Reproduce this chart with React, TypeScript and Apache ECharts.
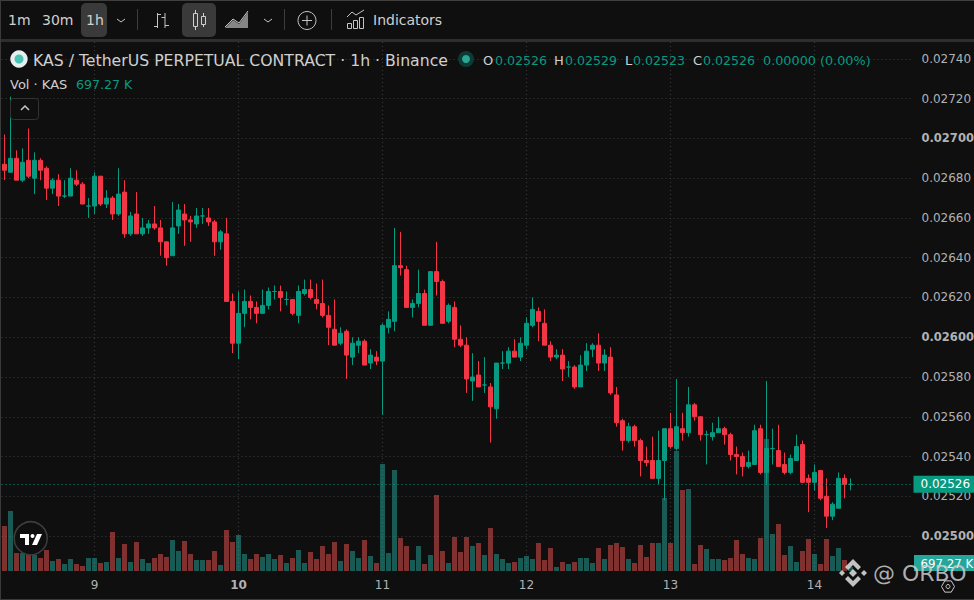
import React, { useEffect, useRef } from "react";
import * as echarts from "echarts";

const FONT = "DejaVu Sans";
const BG = "#0f0f0f";
const UP = "#089981";
const DOWN = "#f23645";
const TEXT = "#cfcfcf";
const AXIS_TEXT = "#b2b2b2";
const GRID = "#3d3d3d";

// Prices are stored in units of 0.00001
const PRICE_UNIT = 0.00001;
const opens = [2687,2683,2690,2679,2689,2680,2689,2685,2675,2679,2671,2671,2679,2677,2666,2666,2681,2667,2670,2662,2673,2652,2662,2652,2655,2657,2655,2648,2641,2656,2662,2659,2657,2661,2660,2658,2648,2652,2618,2597,2612,2618,2615,2612,2616,2623,2623,2619,2619,2611,2622,2624,2619,2617,2611,2604,2597,2603,2590,2596,2598,2587,2590,2588,2605,2608,2636,2634,2615,2617,2622,2606,2633,2628,2608,2615,2599,2596,2578,2581,2576,2575,2564,2587,2587,2593,2590,2596,2606,2613,2607,2596,2590,2591,2585,2585,2575,2586,2594,2596,2587,2590,2571,2558,2548,2555,2548,2538,2538,2529,2538,2554,2544,2554,2552,2566,2560,2551,2550,2552,2554,2551,2541,2540,2535,2536,2554,2532,2544,2543,2536,2532,2538,2546,2529,2527,2533,2520,2510,2514,2529,2526];
const closes = [2684,2690,2679,2688,2681,2689,2684,2675,2679,2671,2671,2680,2677,2667,2666,2681,2667,2670,2662,2672,2652,2661,2652,2655,2657,2655,2648,2640,2655,2664,2659,2658,2661,2661,2658,2648,2653,2618,2597,2612,2618,2615,2612,2616,2623,2623,2620,2619,2612,2623,2624,2620,2617,2611,2605,2596,2602,2591,2597,2598,2586,2591,2588,2606,2609,2636,2635,2615,2617,2622,2606,2633,2628,2607,2616,2599,2596,2579,2580,2575,2576,2565,2587,2587,2593,2590,2597,2607,2614,2608,2596,2590,2591,2584,2585,2575,2586,2593,2596,2587,2591,2572,2557,2548,2555,2548,2538,2537,2529,2538,2554,2545,2555,2552,2566,2560,2551,2551,2552,2554,2551,2541,2540,2535,2537,2553,2532,2544,2544,2535,2532,2539,2545,2527,2527,2532,2519,2510,2516,2529,2526,2526];
const lows = [2679,2683,2679,2678,2680,2672,2679,2669,2672,2666,2670,2671,2676,2667,2660,2662,2666,2665,2659,2661,2650,2651,2652,2651,2652,2654,2641,2636,2641,2652,2646,2648,2655,2657,2656,2641,2644,2618,2592,2589,2605,2609,2607,2612,2614,2619,2613,2616,2611,2607,2621,2619,2614,2610,2596,2596,2596,2579,2586,2592,2586,2584,2586,2561,2602,2603,2631,2615,2610,2615,2606,2606,2621,2607,2607,2595,2595,2572,2568,2575,2572,2547,2559,2584,2584,2590,2588,2594,2605,2598,2596,2588,2589,2578,2580,2574,2575,2583,2590,2583,2583,2571,2555,2543,2547,2545,2530,2535,2529,2526,2518,2544,2543,2548,2550,2558,2548,2536,2548,2552,2546,2538,2531,2530,2534,2536,2531,2526,2536,2535,2531,2531,2538,2527,2512,2523,2518,2504,2508,2514,2519,2523];
const highs = [2702,2721,2694,2695,2705,2693,2690,2686,2680,2682,2679,2685,2684,2678,2670,2683,2681,2674,2671,2685,2679,2663,2673,2660,2659,2666,2659,2648,2668,2667,2667,2661,2665,2665,2665,2659,2654,2660,2622,2623,2624,2621,2618,2624,2625,2626,2626,2623,2619,2626,2629,2629,2627,2629,2616,2619,2605,2604,2600,2600,2599,2594,2593,2607,2613,2655,2653,2636,2619,2634,2624,2633,2648,2629,2617,2618,2606,2600,2592,2588,2590,2577,2587,2593,2595,2599,2600,2610,2620,2615,2614,2598,2594,2594,2588,2586,2591,2597,2597,2602,2594,2595,2575,2559,2557,2556,2549,2545,2550,2553,2554,2562,2579,2562,2575,2567,2560,2553,2557,2560,2555,2552,2545,2542,2543,2556,2556,2578,2554,2556,2542,2541,2551,2548,2531,2536,2533,2529,2517,2532,2531,2529];
// Volumes in thousands of KAS
const volumes = [7830,10440,3132,3132,2784,2784,2262,3654,1740,2088,1218,2088,1218,870,2262,2262,1392,1566,6786,2262,4698,1566,5046,2088,1392,2262,2958,2436,5394,3480,5220,2958,1914,1914,1914,3480,1044,7134,5046,6264,2958,2088,2958,2436,2958,2088,2784,1392,2262,3654,1392,3306,2088,4350,2958,5046,1740,4698,3480,2262,5394,2610,1392,18618,3132,17574,5742,4350,1914,4350,1218,2784,13224,3480,1392,5916,3306,5916,4350,4872,2784,7482,2958,2088,1392,1566,2262,2610,2088,4872,1914,4002,696,1566,1218,1566,2262,2262,1392,4002,2088,4524,4872,4176,2088,1392,4524,2436,4872,4872,12702,4872,20880,14094,14268,1218,4524,3828,2088,2088,1914,2262,5394,2958,2262,2088,5742,22968,6438,8178,2784,4350,1566,3480,5568,2958,1218,5568,2610,4002,1914,697];

const dayTicks: Record<number, string> = { 15: "9", 39: "10", 63: "11", 87: "12", 111: "13", 135: "14" };
const boldDays = ["10"];
const boldPrices = ["0.02700", "0.02600", "0.02500"];
const CATEGORY_COUNT = 152;
const categories = Array.from({ length: CATEGORY_COUNT }, (_, i) => dayTicks[i] ?? `h${i}`);
const isDayTick = (i: number) => dayTicks[i] !== undefined;

const lastPriceLabel = "0.02526";
const lastVolumeLabel = "697.27 K";
const titleText = "KAS / TetherUS PERPETUAL CONTRACT · 1h · Binance";
const ohlc = [
  { k: "O", lx: 483, v: "0.02526", vx: 495 },
  { k: "H", lx: 554, v: "0.02529", vx: 565 },
  { k: "L", lx: 625, v: "0.02523", vx: 633 },
  { k: "C", lx: 693, v: "0.02526", vx: 703 },
];
const changeText = "0.00000 (0.00%)";

const txt = (text: string, x: number, y: number, fill: string, fontSize = 14, extra: any = {}) => ({
  type: "text", x, y, silent: true, z: 50,
  style: { text, fill, fontSize, fontFamily: FONT, verticalAlign: "middle", ...extra },
});
const ln = (x1: number, y1: number, x2: number, y2: number, stroke = "#c4c4c4", lineWidth = 1) => ({
  type: "line", silent: true, z: 50, shape: { x1, y1, x2, y2 }, style: { stroke, lineWidth },
});
const rc = (x: number, y: number, width: number, height: number, style: any, r = 0, z = 40) => ({
  type: "rect", silent: true, z, shape: { x, y, width, height, r }, style,
});
const poly = (points: number[][], fill: string, z = 60) => ({
  type: "polygon", silent: true, z, shape: { points }, style: { fill },
});
const pl = (points: number[][], stroke = "#c4c4c4", lineWidth = 1, z = 50) => ({
  type: "polyline", silent: true, z, shape: { points }, style: { stroke, lineWidth, fill: "none" },
});

function chrome(): any[] {
  const wm = "rgba(226,226,226,0.85)";
  const cx = 853, cy = 573;
  const d = (dx: number, h: number) => [[cx + dx, cy - h], [cx + dx + h, cy], [cx + dx, cy + h], [cx + dx - h, cy]];
  const chev = (s: number) => [[cx, cy + s * 14], [cx + 8, cy + s * 6], [cx + 5, cy + s * 3], [cx, cy + s * 8], [cx - 5, cy + s * 3], [cx - 8, cy + s * 6]];
  const hex = (x: number, y: number, r: number) => [0, 1, 2, 3, 4, 5, 0].map((k) => [x + r * Math.cos((k * Math.PI) / 3), y + r * Math.sin((k * Math.PI) / 3)]);
  return [
    // toolbar
    rc(0, 0, 974, 39, { fill: BG }),
    rc(0, 39, 974, 3, { fill: "#2e2e2e" }),
    rc(0, 0, 974, 1, { fill: "#3f3f3f" }, 0, 70),
    rc(0, 0, 1, 600, { fill: "#3a3a3a" }, 0, 70),
    rc(0, 599, 974, 1, { fill: "#3a3a3a" }, 0, 70),
    rc(81, 3, 26, 34, { fill: "#3a3a3a" }, 5, 41),
    rc(182, 3, 34, 34, { fill: "#3a3a3a" }, 5, 41),
    txt("1m", 8, 20, TEXT),
    txt("30m", 42, 20, TEXT),
    txt("1h", 86, 20, TEXT),
    pl([[117, 19], [121, 22], [125, 19]]),
    ln(137.5, 9, 137.5, 30, "#3d3d3d"),
    ln(157.5, 13, 157.5, 28), ln(154, 26.5, 157.5, 26.5), ln(157.5, 14.5, 161, 14.5),
    ln(165, 13, 165, 28), ln(161.5, 17.5, 165, 17.5), ln(165, 25.5, 169, 25.5),
    rc(193.5, 13.5, 4, 13, { fill: "none", stroke: "#d0d0d0", lineWidth: 1 }, 0, 50),
    ln(195.5, 10, 195.5, 13.5, "#d0d0d0"), ln(195.5, 26.5, 195.5, 30, "#d0d0d0"),
    rc(201.5, 16.5, 4, 8, { fill: "none", stroke: "#d0d0d0", lineWidth: 1 }, 0, 50),
    ln(203.5, 13, 203.5, 16.5, "#d0d0d0"), ln(203.5, 24.5, 203.5, 27, "#d0d0d0"),
    poly([[225, 28], [233, 20], [239, 24], [248, 12], [248, 28]], "#858585", 50),
    pl([[225, 27], [233, 19], [239, 23], [248, 11]]),
    pl([[264, 19], [268, 22], [272, 19]]),
    ln(284.5, 9, 284.5, 30, "#3d3d3d"),
    { type: "circle", silent: true, z: 50, shape: { cx: 307, cy: 20.5, r: 9 }, style: { fill: "none", stroke: "#c4c4c4", lineWidth: 1 } },
    ln(302, 20.5, 312, 20.5), ln(307, 15.5, 307, 25.5),
    ln(331.5, 9, 331.5, 30, "#3d3d3d"),
    pl([[347, 17], [352, 12], [356, 15], [364, 10]]),
    rc(347.5, 23.5, 4, 5, { fill: "none", stroke: "#c4c4c4", lineWidth: 1 }, 0, 50),
    rc(353.5, 20.5, 4, 8, { fill: "none", stroke: "#c4c4c4", lineWidth: 1 }, 0, 50),
    rc(359.5, 17.5, 4, 11, { fill: "none", stroke: "#c4c4c4", lineWidth: 1 }, 0, 50),
    txt("Indicators", 373, 20, TEXT),
    // legend
    { type: "circle", silent: true, z: 50, shape: { cx: 19, cy: 59, r: 8.7 }, style: { fill: "#e6efee" } },
    { type: "circle", silent: true, z: 51, shape: { cx: 19, cy: 59, r: 4.5 }, style: { fill: "#49c4b4" } },
    txt(titleText, 33, 60, TEXT, 15.7),
    { type: "circle", silent: true, z: 50, shape: { cx: 466, cy: 59, r: 8 }, style: { fill: "#0d3a33" } },
    { type: "circle", silent: true, z: 51, shape: { cx: 466, cy: 59, r: 4 }, style: { fill: "#2ba595" } },
    ...ohlc.flatMap((o) => [txt(o.k, o.lx, 60, TEXT, 13), txt(o.v, o.vx, 60, UP, 12.6)]),
    txt(changeText, 763, 60, UP, 12.8),
    txt("Vol · KAS", 10, 84, TEXT, 13),
    txt(lastVolumeLabel, 76, 84, UP, 12.6),
    rc(10.5, 98.5, 28, 21, { fill: BG, stroke: "#333333", lineWidth: 1 }, 3, 45),
    pl([[21, 110], [25, 106], [29, 110]], "#c8c8c8", 1.5),
    // volume price tag
    rc(914, 555, 60, 16, { fill: "#26a69a" }, 0, 45),
    txt(lastVolumeLabel, 920.5, 563.5, "#ffffff", 11.8),
    // TradingView badge
    { type: "circle", silent: true, z: 55, shape: { cx: 30.7, cy: 538.3, r: 16.5 }, style: { fill: "#0f0f0f", stroke: "#3d3d3d", lineWidth: 1.5 } },
    poly([[20, 534], [29, 534], [29, 545], [25, 545], [25, 538], [20, 538]], "#ffffff"),
    { type: "circle", silent: true, z: 60, shape: { cx: 32.5, cy: 536, r: 2 }, style: { fill: "#ffffff" } },
    poly([[37, 534], [42, 534], [37, 545], [32, 545]], "#ffffff"),
    // watermark
    poly(chev(-1), wm), poly(chev(1), wm), poly(d(0, 4), wm), poly(d(-11, 3), wm), poly(d(11, 3), wm),
    txt("@ ORBO", 873, 573, "rgba(205,205,205,0.85)", 22, {}),
    pl(hex(948, 586.5, 6.5), "#c8c8c8", 1, 60),
    { type: "circle", silent: true, z: 60, shape: { cx: 948, cy: 586.5, r: 2 }, style: { fill: "none", stroke: "#c8c8c8", lineWidth: 1 } },
  ];
}

export default function App() {
  const ref = useRef<HTMLDivElement>(null);
  useEffect(() => {
    document.body.style.margin = "0";
    document.body.style.background = BG;
    const chart = echarts.init(ref.current!, undefined, { renderer: "svg" });
    const p = (v: number) => v * PRICE_UNIT;
    const candleData = opens.map((o, i) => [p(o), p(closes[i]), p(lows[i]), p(highs[i])]);
    const volumeData = volumes.map((v, i) => {
      const up = closes[i] >= opens[i];
      return { value: v, itemStyle: { color: up ? "rgba(38,166,154,0.5)" : "rgba(239,83,80,0.5)" } };
    });
    const lastPrice = p(closes[closes.length - 1]);
    const gridRight = 974 - 913.5;
    chart.setOption({
      animation: false,
      backgroundColor: BG,
      textStyle: { fontFamily: FONT },
      grid: [
        // price pane: one tick step is 39.76 px, 0.02740 sits at y = 58.9
        { left: 1.5, right: gridRight, top: 58.9, height: 516.9, containLabel: false, outerBoundsMode: "none" },
        // volume pane: y = 42 to y = 571
        { left: 1.5, right: gridRight, top: 42, height: 529, containLabel: false, outerBoundsMode: "none" },
      ],
      xAxis: [
        {
          type: "category", gridIndex: 0, data: categories, boundaryGap: true,
          axisLine: { show: false }, axisTick: { show: false }, axisLabel: { show: false }, splitLine: { show: false },
        },
        {
          type: "category", gridIndex: 1, data: categories, boundaryGap: true,
          axisLine: { show: false }, axisTick: { show: false },
          axisLabel: {
            interval: (i: number) => isDayTick(i),
            margin: 8, color: AXIS_TEXT, fontSize: 12, fontFamily: FONT,
            formatter: (v: string) => (boldDays.includes(v) ? `{b|${v}}` : v),
            rich: { b: { fontWeight: "bold", fontSize: 12, color: AXIS_TEXT, fontFamily: FONT } },
          },
          splitLine: {
            show: true, alignWithLabel: true, interval: (i: number) => isDayTick(i),
            lineStyle: { color: GRID, type: [1, 3], width: 1 },
          },
        },
      ],
      yAxis: [
        {
          type: "value", gridIndex: 0, position: "right", min: 0.0248, max: 0.0274, interval: 0.0002, scale: true,
          axisLine: { show: false }, axisTick: { show: false },
          axisLabel: {
            margin: 8, color: AXIS_TEXT, fontSize: 12, fontFamily: FONT, showMinLabel: false,
            formatter: (v: number) => {
              const s = v.toFixed(5);
              return boldPrices.includes(s) ? `{b|${s}}` : s;
            },
            rich: { b: { fontWeight: "bold", fontSize: 11.5, color: AXIS_TEXT, fontFamily: FONT } },
          },
          splitLine: { show: true, showMinLine: false, lineStyle: { color: GRID, type: [1, 3], width: 1 } },
        },
        {
          type: "value", gridIndex: 1, position: "right", min: 0, max: 92046,
          axisLine: { show: false }, axisTick: { show: false }, axisLabel: { show: false }, splitLine: { show: false },
        },
      ],
      series: [
        {
          type: "bar", name: "Vol", xAxisIndex: 1, yAxisIndex: 1, data: volumeData, barWidth: 5, z: 2, silent: true,
        },
        {
          type: "candlestick", name: "KAS", xAxisIndex: 0, yAxisIndex: 0, data: candleData, barWidth: 4, z: 3, silent: true,
          itemStyle: {
            color: UP, color0: DOWN, borderColor: UP, borderColor0: DOWN, borderColorDoji: UP, borderWidth: 1,
          },
        },
        {
          type: "line", name: "Last", xAxisIndex: 0, yAxisIndex: 0, data: [], z: 4, silent: true, showSymbol: false,
          lineStyle: { opacity: 0 },
          markLine: {
            silent: true, symbol: ["none", "none"], animation: false, precision: 5,
            data: [{ yAxis: lastPrice }],
            lineStyle: { color: UP, type: [1, 3], width: 1 },
            label: {
              show: true, position: "end", distance: 0, formatter: lastPriceLabel, color: "#ffffff", fontSize: 12, fontFamily: FONT,
              backgroundColor: UP, padding: [3, 4, 2, 7],
            },
          },
        },
      ],
      graphic: { elements: chrome() },
    });
    return () => chart.dispose();
  }, []);
  return <div ref={ref} style={{ position: "absolute", left: 0, top: 0, width: 974, height: 600 }} />;
}
